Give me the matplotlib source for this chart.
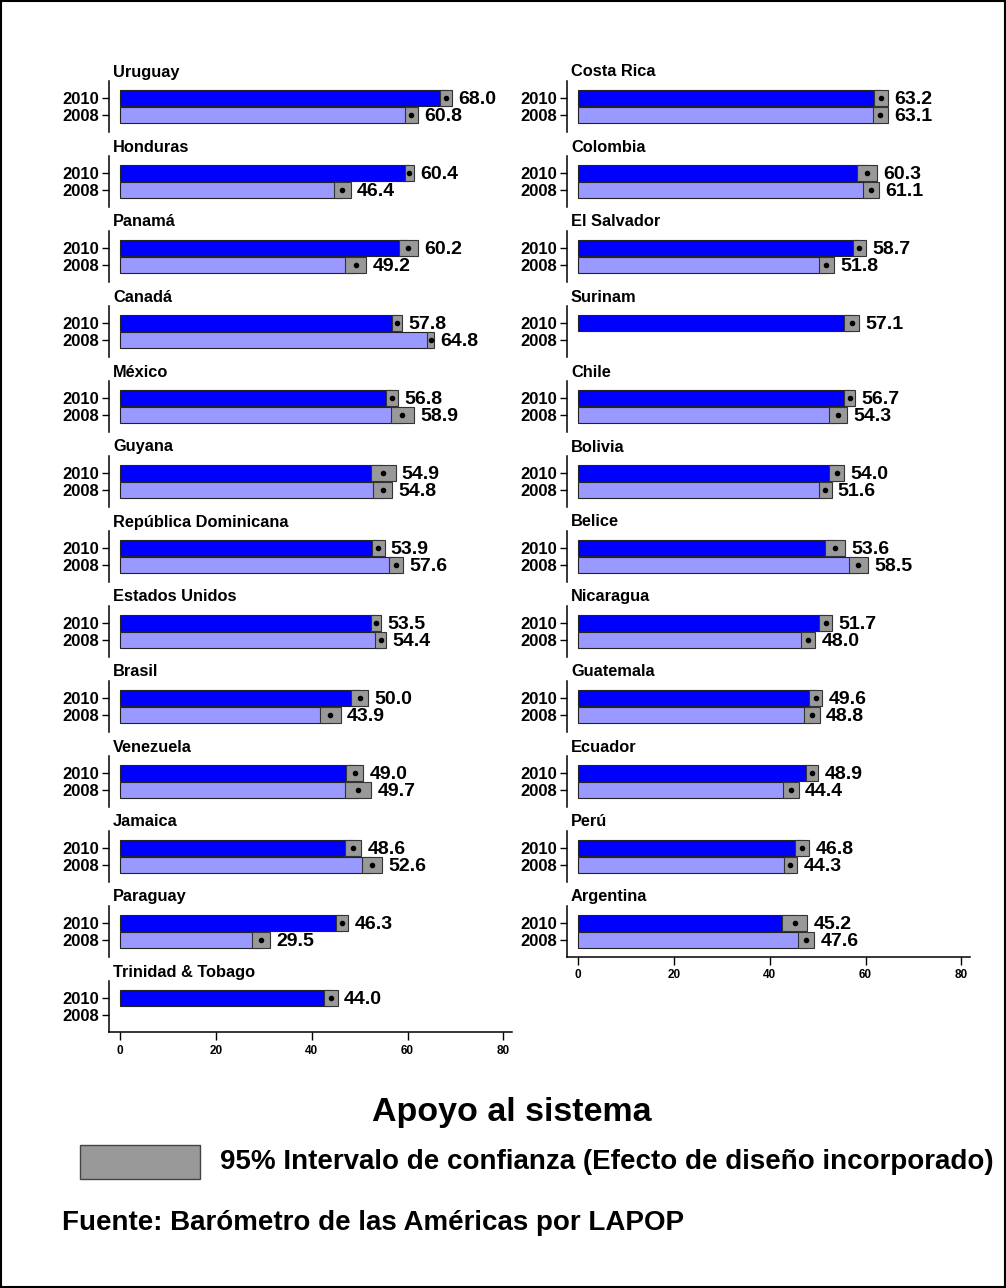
import matplotlib
matplotlib.use("Agg")
import matplotlib.pyplot as plt
from matplotlib.patches import Rectangle

plt.rcParams['font.family'] = ['Liberation Sans', 'DejaVu Sans']
plt.rcParams['font.weight'] = 'bold'

years = ["2010", "2008"]

left_countries = ["Uruguay", "Honduras", "Panamá", "Canadá", "México", "Guyana",
                  "República Dominicana", "Estados Unidos", "Brasil", "Venezuela",
                  "Jamaica", "Paraguay", "Trinidad & Tobago"]
left_2010 = [68.0, 60.4, 60.2, 57.8, 56.8, 54.9, 53.9, 53.5, 50.0, 49.0, 48.6, 46.3, 44.0]
left_2008 = [60.8, 46.4, 49.2, 64.8, 58.9, 54.8, 57.6, 54.4, 43.9, 49.7, 52.6, 29.5, None]
left_ci2010 = [1.3, 0.95, 2.05, 1.05, 1.25, 2.6, 1.3, 1.05, 1.7, 1.8, 1.75, 1.3, 1.4]
left_ci2008 = [1.3, 1.8, 2.2, 0.75, 2.4, 2.05, 1.5, 1.15, 2.2, 2.7, 2.05, 1.9, None]

right_countries = ["Costa Rica", "Colombia", "El Salvador", "Surinam", "Chile", "Bolivia",
                   "Belice", "Nicaragua", "Guatemala", "Ecuador", "Perú", "Argentina"]
right_2010 = [63.2, 60.3, 58.7, 57.1, 56.7, 54.0, 53.6, 51.7, 49.6, 48.9, 46.8, 45.2]
right_2008 = [63.1, 61.1, 51.8, None, 54.3, 51.6, 58.5, 48.0, 48.8, 44.4, 44.3, 47.6]
right_ci2010 = [1.5, 2.15, 1.35, 1.6, 1.2, 1.6, 2.15, 1.4, 1.4, 1.25, 1.5, 2.6]
right_ci2008 = [1.55, 1.65, 1.6, None, 1.9, 1.3, 1.95, 1.5, 1.6, 1.65, 1.4, 1.65]

xticks = [0, 20, 40, 60, 80]

title = "Apoyo al sistema"
legend_label = "95% Intervalo de confianza (Efecto de diseño incorporado)"
source = "Fuente: Barómetro de las Américas por LAPOP"

W, H = 1006, 1288
fig = plt.figure(figsize=(W / 100, H / 100), dpi=100)

C2010 = "#0000FF"
C2008 = "#9999FF"
CGREY = "#999999"
EDGE = "#222222"


def panel(col, i, name, v10, v08, c10, c08, bottom):
    left_px = 108.5 if col == 0 else 566.5
    top_px = 81 + 75 * i
    hpx, wpx = 51, 403.5
    ax = fig.add_axes([left_px / W, 1 - (top_px + hpx) / H, wpx / W, hpx / H])
    ax.set_xlim(-2.4, 81.8)
    ax.set_ylim(-1, 2)
    for y, v, ci, col_ in ((1, v10, c10, C2010), (0, v08, c08, C2008)):
        if v is None:
            continue
        ax.barh(y, v, height=0.95, color=col_, edgecolor=EDGE, linewidth=0.8, zorder=2)
        ax.barh(y, 2 * ci, left=v - ci, height=0.95, color=CGREY, edgecolor="#333333",
                linewidth=0.8, zorder=3)
        ax.plot([v], [y], 'o', color='black', markersize=3.0, zorder=4)
        ax.annotate(f"{v:.1f}", xy=(v + ci, y), xytext=(4.5, -1), textcoords='offset points',
                    ha='left', va='center', fontsize=14, fontweight='bold', zorder=5)
    ax.set_yticks([1, 0])
    ax.set_yticklabels(years, fontsize=12, fontweight='bold')
    ax.tick_params(axis='y', length=5, width=1.0, pad=1.5)
    for s in ('top', 'right'):
        ax.spines[s].set_visible(False)
    ax.spines['left'].set_linewidth(1.1)
    if bottom:
        ax.set_xticks(xticks)
        ax.set_xticklabels([str(t) for t in xticks], fontsize=8.5, fontweight='bold')
        ax.tick_params(axis='x', length=6, width=1.0, pad=3)
        ax.spines['bottom'].set_linewidth(1.1)
    else:
        ax.spines['bottom'].set_visible(False)
        ax.set_xticks([])
    ax.patch.set_alpha(0)
    fig.text((left_px + 4.5) / W, 1 - (top_px - 9) / H, name, ha='left', va='center',
             fontsize=11.8, fontweight='bold')


for i, name in enumerate(left_countries):
    panel(0, i, name, left_2010[i], left_2008[i], left_ci2010[i], left_ci2008[i],
          i == len(left_countries) - 1)
for i, name in enumerate(right_countries):
    panel(1, i, name, right_2010[i], right_2008[i], right_ci2010[i], right_ci2008[i],
          i == len(right_countries) - 1)

fig.text(512 / W, 1 - 1112 / H, title, ha='center', va='center', fontsize=24.5, fontweight='bold')
fig.patches.append(Rectangle((80 / W, 1 - 1179 / H), 120 / W, 34 / H, transform=fig.transFigure,
                             facecolor=CGREY, edgecolor="#444444", linewidth=1.0))
fig.text(220 / W, 1 - 1162 / H, legend_label, ha='left', va='center', fontsize=20, fontweight='bold')
fig.text(62 / W, 1 - 1223 / H, source, ha='left', va='center', fontsize=20, fontweight='bold')

fig.patches.append(Rectangle((0.0008, 0.0008), 0.9984, 0.9984, transform=fig.transFigure,
                             fill=False, edgecolor='black', linewidth=1.5))

fig.savefig("out.png", dpi=100)
